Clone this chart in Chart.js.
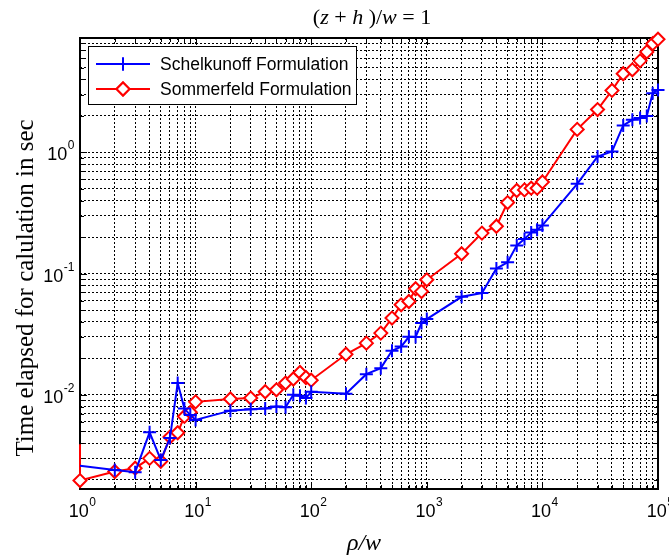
<!DOCTYPE html>
<html>
<head>
<meta charset="utf-8">
<script src="https://cdn.jsdelivr.net/npm/chart.js@4.4.1/dist/chart.umd.min.js"></script>
<style>
  html, body { margin: 0; padding: 0; background: #fff; }
</style>
</head>
<body>
<canvas id="c" width="669" height="558"></canvas>
<script>
// rho/w sample points (x axis)
const rhoOverW = [1, 2, 3, 4, 5, 6, 7, 8, 9,
  10, 20, 30, 40, 50, 60, 70, 80, 90,
  100, 200, 300, 400, 500, 600, 700, 800, 900,
  1000, 2000, 3000, 4000, 5000, 6000, 7000, 8000, 9000,
  10000, 20000, 30000, 40000, 50000, 60000, 70000, 80000, 90000, 100000];

// time in seconds
const schelkunoff = [0.0026, 0.0024, 0.0023, 0.0049, 0.0029, 0.0044, 0.0125, 0.0077, 0.0068,
  0.0062, 0.0074, 0.0076, 0.0077, 0.0080, 0.0079, 0.0100, 0.0098, 0.0094,
  0.0106, 0.0102, 0.0148, 0.0166, 0.0231, 0.0250, 0.0301, 0.0300, 0.0391,
  0.0422, 0.0644, 0.0691, 0.110, 0.124, 0.171, 0.193, 0.218, 0.230,
  0.250, 0.551, 0.925, 1.02, 1.67, 1.86, 1.92, 2.00, 3.08, 3.28];

const sommerfeld = [0.00196, 0.00233, 0.00248, 0.00299, 0.00283, 0.00448, 0.00486, 0.00663, 0.00717,
  0.00875, 0.00923, 0.0094, 0.0106, 0.0110, 0.0125, 0.0135, 0.0153, 0.0139,
  0.0132, 0.0216, 0.0267, 0.0323, 0.043, 0.0553, 0.0589, 0.075, 0.0711,
  0.0889, 0.146, 0.216, 0.246, 0.386, 0.485, 0.491, 0.507, 0.507,
  0.571, 1.55, 2.26, 3.25, 4.46, 4.81, 5.70, 6.76, 7.9, 8.6];
// first sommerfeld sample at rho/w = 1 (drawn without marker)
const sommerfeldLead = 0.0039;

const xDecades = [0, 1, 2, 3, 4, 5];
const yDecades = [-2, -1, 0];
const xRange = [1, 100000];
const yRange = [0.00167, 8.8];

const seriesNames = ['Schelkunoff Formulation', 'Sommerfeld Formulation'];

const tickFont = '"Liberation Sans", Arial, sans-serif';
const serif = '"Liberation Serif", "Times New Roman", serif';

function logTicks(min, max) {
  var out = [];
  for (var d = -4; d <= 5; d++) {
    for (var k = 1; k <= 9; k++) {
      var v = parseFloat((k * Math.pow(10, d)).toPrecision(6));
      if (v >= min * 0.9999 && v <= max * 1.0001) out.push({value: v});
    }
  }
  return out;
}

var blueData = rhoOverW.map(function(x, i){ return {x: x, y: schelkunoff[i]}; });
var redData = [{x: rhoOverW[0], y: sommerfeldLead}].concat(
  rhoOverW.map(function(x, i){ return {x: x, y: sommerfeld[i]}; }));

function drawPow(ctx, exp, x, baseY, align) {
  ctx.font = '18px ' + tickFont;
  var wb = ctx.measureText('10').width;
  ctx.font = '12px ' + tickFont;
  var we = ctx.measureText(exp).width;
  var left = align === 'right' ? x - wb - we : x - (wb + we) / 2;
  ctx.fillStyle = '#000';
  ctx.textAlign = 'left';
  ctx.textBaseline = 'alphabetic';
  ctx.font = '18px ' + tickFont;
  ctx.fillText('10', left, baseY);
  ctx.font = '12px ' + tickFont;
  ctx.fillText(exp, left + wb + 0.5, baseY - 11);
}

var framePlugin = {
  id: 'matlabFrame',
  // box and inner tick marks, under the data lines
  beforeDatasetsDraw: function(chart) {
    var ctx = chart.ctx, a = chart.chartArea;
    var xs = chart.scales.x, ys = chart.scales.y;
    ctx.save();
    ctx.strokeStyle = '#000';
    ctx.lineWidth = 1;
    xs.ticks.forEach(function(t) {
      var p = Math.round(xs.getPixelForValue(t.value)) + 0.5;
      var len = Math.abs(Math.log10(t.value) % 1) < 1e-9 ? 7 : 4;
      ctx.beginPath();
      ctx.moveTo(p, a.bottom); ctx.lineTo(p, a.bottom - len);
      ctx.moveTo(p, a.top); ctx.lineTo(p, a.top + len);
      ctx.stroke();
    });
    ys.ticks.forEach(function(t) {
      var p = Math.round(ys.getPixelForValue(t.value)) + 0.5;
      var len = Math.abs(Math.log10(t.value) % 1) < 1e-9 ? 7 : 4;
      ctx.beginPath();
      ctx.moveTo(a.left, p); ctx.lineTo(a.left + len, p);
      ctx.moveTo(a.right, p); ctx.lineTo(a.right - len, p);
      ctx.stroke();
    });
    ctx.lineWidth = 2;
    ctx.strokeRect(a.left, a.top, a.right - a.left, a.bottom - a.top);
    ctx.restore();
  },
  afterDraw: function(chart) {
    var ctx = chart.ctx, a = chart.chartArea;
    var xs = chart.scales.x, ys = chart.scales.y;
    ctx.save();

    // tick labels
    xDecades.forEach(function(d) {
      drawPow(ctx, String(d), xs.getPixelForValue(Math.pow(10, d)) + 2, a.bottom + 28, 'center');
    });
    yDecades.forEach(function(d) {
      drawPow(ctx, String(d), a.left - 6, ys.getPixelForValue(Math.pow(10, d)) + 8, 'right');
    });

    // title with italic symbols
    var parts = [['(', false], ['z', true], [' + ', false], ['h', true], [' )/', false], ['w', true], [' = 1', false]];
    var total = 0;
    parts.forEach(function(p) {
      ctx.font = (p[1] ? 'italic ' : '') + '22px ' + serif;
      total += ctx.measureText(p[0]).width;
    });
    var tx = (a.left + a.right) / 2 + 3 - total / 2;
    ctx.textBaseline = 'alphabetic';
    ctx.textAlign = 'left';
    parts.forEach(function(p) {
      ctx.font = (p[1] ? 'italic ' : '') + '22px ' + serif;
      ctx.fillText(p[0], tx, 24);
      tx += ctx.measureText(p[0]).width;
    });

    // axis titles
    ctx.font = 'italic 24px ' + serif;
    ctx.textAlign = 'center';
    ctx.fillText('\u03C1/w', (a.left + a.right) / 2 - 5, 550);
    ctx.save();
    ctx.translate(33, 288);
    ctx.rotate(-Math.PI / 2);
    ctx.font = '25px ' + serif;
    ctx.fillText('Time elapsed for calulation in sec', 0, 0);
    ctx.restore();

    // legend
    var lx = 88, ly = 46, lw = 268, lh = 58;
    ctx.fillStyle = '#fff';
    ctx.fillRect(lx, ly, lw, lh);
    ctx.lineWidth = 1;
    ctx.strokeStyle = '#000';
    ctx.strokeRect(lx + 0.5, ly + 0.5, lw, lh);
    chart.data.datasets.forEach(function(ds, i) {
      var ry = ly + 18 + i * 25;
      ctx.strokeStyle = ds.borderColor;
      ctx.lineWidth = 2;
      ctx.beginPath();
      ctx.moveTo(lx + 8, ry); ctx.lineTo(lx + 62, ry);
      ctx.stroke();
      Chart.helpers.drawPoint(ctx, {pointStyle: ds.pointStyle, radius: 6.5, borderWidth: 2}, lx + 35, ry);
      if (ds.pointStyle === 'rectRot') { ctx.fillStyle = '#fff'; ctx.fill(); }
      ctx.stroke();
      ctx.fillStyle = '#000';
      ctx.font = '17.5px ' + tickFont;
      ctx.textAlign = 'left';
      ctx.textBaseline = 'middle';
      ctx.fillText(ds.label, lx + 72, ry + 1);
    });
    ctx.restore();
  }
};

function hideFirst(ctx) { return ctx.dataIndex === 0 ? 0 : 6.5; }

new Chart(document.getElementById('c'), {
  type: 'line',
  data: {
    datasets: [{
      label: seriesNames[0],
      data: blueData,
      borderColor: '#0000ff',
      backgroundColor: '#0000ff',
      borderWidth: 2,
      pointStyle: 'cross',
      pointRadius: hideFirst,
      pointBorderWidth: 2,
      pointBorderColor: '#0000ff',
      tension: 0,
      clip: false
    }, {
      label: seriesNames[1],
      data: redData,
      borderColor: '#ff0000',
      backgroundColor: '#ffffff',
      borderWidth: 2,
      pointStyle: 'rectRot',
      pointRadius: hideFirst,
      pointBorderWidth: 2,
      pointBorderColor: '#ff0000',
      pointBackgroundColor: '#ffffff',
      tension: 0,
      clip: false
    }]
  },
  options: {
    responsive: false,
    animation: false,
    events: [],
    layout: { padding: { left: 80, right: 11, top: 38, bottom: 69 } },
    plugins: { legend: { display: false }, tooltip: { enabled: false }, title: { display: false } },
    scales: {
      x: {
        type: 'logarithmic',
        min: xRange[0], max: xRange[1],
        afterBuildTicks: function(s) { s.ticks = logTicks(s.min, s.max); },
        ticks: { display: false },
        grid: { color: '#000', lineWidth: 1, drawTicks: false },
        border: { display: false, dash: [2, 2] }
      },
      y: {
        type: 'logarithmic',
        min: yRange[0], max: yRange[1],
        afterBuildTicks: function(s) { s.ticks = logTicks(s.min, s.max); },
        ticks: { display: false },
        grid: { color: '#000', lineWidth: 1, drawTicks: false },
        border: { display: false, dash: [2, 2] }
      }
    }
  },
  plugins: [framePlugin]
});
</script>
</body>
</html>
